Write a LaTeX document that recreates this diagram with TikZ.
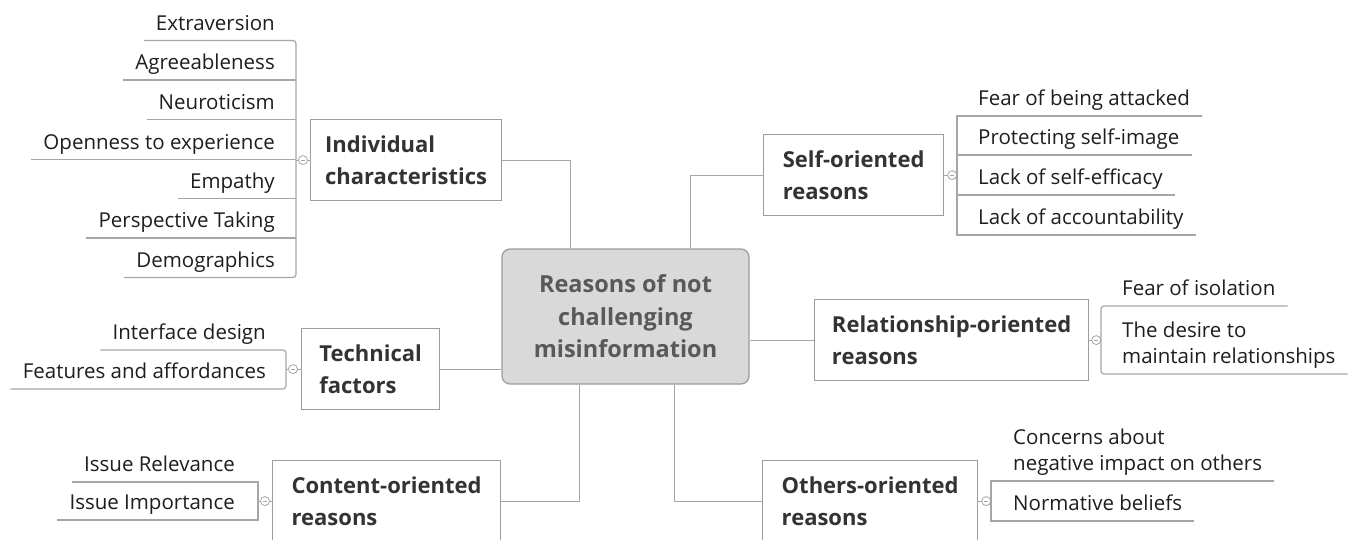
\documentclass[tikz,border=0pt]{standalone}
\usepackage{fontspec}
\setmainfont{Open Sans}
\usetikzlibrary{calc}
\definecolor{linegray}{HTML}{A6A6A6}
\definecolor{boxgray}{HTML}{9C9C9C}
\definecolor{centerfill}{HTML}{D9D9D9}
\definecolor{centertext}{HTML}{595959}
\definecolor{headtext}{HTML}{333333}
\definecolor{itemtext}{HTML}{1E1E1E}
\newcommand{\itemfont}{\fontsize{20.5}{26.5}\selectfont}
\newcommand{\headfont}{\fontsize{22}{32.5}\selectfont\bfseries}
\newcommand{\rootfont}{\fontsize{23.5}{32.5}\selectfont\bfseries}
\begin{document}
\begin{tikzpicture}[x=1pt,y=-1pt,
  conn/.style={draw=linegray, line width=1.2pt},
  bracket/.style={conn, rounded corners=3pt},
  sqbracket/.style={conn},
  topic/.style={draw=boxgray, line width=1.2pt, fill=white, anchor=north west,
    inner sep=0pt, align=left, font=\headfont, text=headtext, minimum height=81pt},
  root/.style={draw=boxgray, fill=centerfill, rounded corners=8pt, line width=1.2pt,
    minimum width=247pt, minimum height=135pt, align=center, font=\rootfont,
    text=centertext, inner sep=0pt},
  item/.style={font=\itemfont, text=itemtext, inner xsep=12pt, inner ysep=0pt,
    execute at end node={\rule[-10pt]{0pt}{10pt}}},
  litem/.style={item, anchor=south east, align=right},
  ritem/.style={item, anchor=south west, align=left},
  toggle/.style={circle, draw=linegray, fill=white, line width=0.8pt,
    minimum size=9pt, inner sep=0pt,
    path picture={\draw[linegray, line width=0.6pt]
      ([xshift=-2pt]path picture bounding box.center) --
      ([xshift=2pt]path picture bounding box.center);}}
]
\useasboundingbox (0,0) rectangle (1352,539);
\fill[white] (0,0) rectangle (1352,539);

% central topic
\node[root] (root) at (625.5,316.5) {Reasons of not\\challenging\\misinformation};

% main topics
\node[topic, minimum width=191pt] (indiv) at (310,119) {Individual\\characteristics};
\node[topic, minimum width=180pt] (self) at (763,134) {Self-oriented\\reasons};
\node[topic, minimum width=138pt] (tech) at (301,328) {Technical\\factors};
\node[topic, minimum width=274pt] (rel) at (814,299) {Relationship-oriented\\reasons};
\node[topic, minimum width=228pt] (content) at (272,460) {Content-oriented\\reasons};
\node[topic, minimum width=215pt] (others) at (762,460) {Others-oriented\\reasons};

% connectors to root
\draw[conn] (indiv.east) -| ($(root.north west)+(69,0)$);
\draw[conn] (self.west) -| ($(root.north west)+(189,0)$);
\draw[conn] (tech.east) -- (tech.east -| root.west);
\draw[conn] (rel.west) -- (rel.west -| root.east);
\draw[conn] (content.east) -| ($(root.south west)+(78,0)$);
\draw[conn] (others.west) -| ($(root.south west)+(173,0)$);

% ---- Individual characteristics
\coordinate (bi) at (296,159.5);
\node[litem] (i1) at (287,40.5) {Extraversion};
\node[litem] (i2) at (287,80) {Agreeableness};
\node[litem] (i3) at (287,119.5) {Neuroticism};
\node[litem] (i4) at (287,159.5) {Openness to experience};
\node[litem] (i5) at (287,198.5) {Empathy};
\node[litem] (i6) at (287,238) {Perspective Taking};
\node[litem] (i7) at (287,277.5) {Demographics};
\draw[bracket] (i1.south west) -- (i1.south west -| bi) -- (i7.south west -| bi) -- (i7.south west);
\foreach \n in {i2,i3,i4,i5,i6} \draw[conn] (\n.south west) -- (\n.south west -| bi);
\draw[conn] (indiv.west) -- (indiv.west -| bi);
\node[toggle] at ($(indiv.west)+(-7,0)$) {};

% ---- Technical factors
\coordinate (bt) at (286,368.5);
\node[litem] (t1) at (278,350) {Interface design};
\node[litem] (t2) at (278,389) {Features and affordances};
\draw[bracket] (t1.south west) -- (t1.south west -| bt) -- (t2.south west -| bt) -- (t2.south west);
\draw[conn] (tech.west) -- (tech.west -| bt);
\node[toggle] at ($(tech.west)+(-8,0)$) {};

% ---- Content-oriented reasons
\coordinate (bc) at (258,500.5);
\node[litem] (c1) at (247,482) {Issue Relevance};
\node[litem] (c2) at (247,520) {Issue Importance};
\draw[sqbracket] (c1.south west) -- (c1.south west -| bc) -- (c2.south west -| bc) -- (c2.south west);
\draw[conn] (content.west) -- (content.west -| bc);
\node[toggle] at ($(content.west)+(-7,0)$) {};

% ---- Self-oriented reasons
\coordinate (bs) at (957,174.5);
\node[ritem] (s1) at (966,116) {Fear of being attacked};
\node[ritem] (s2) at (966,155) {Protecting self-image};
\node[ritem] (s3) at (966,195) {Lack of self-efficacy};
\node[ritem] (s4) at (966,235) {Lack of accountability};
\draw[sqbracket] (s1.south east) -- (s1.south east -| bs) -- (s4.south east -| bs) -- (s4.south east);
\foreach \n in {s2,s3} \draw[conn] (\n.south east) -- (\n.south east -| bs);
\draw[conn] (self.east) -- (self.east -| bs);
\node[toggle] at ($(self.east)+(8,0)$) {};

% ---- Relationship-oriented reasons
\coordinate (br) at (1101,339.5);
\node[ritem] (r1) at (1110,306) {Fear of isolation};
\node[ritem] (r2) at (1110,374) {The desire to\\maintain relationships};
\draw[bracket] (r1.south east) -- (r1.south east -| br) -- (r2.south east -| br) -- (r2.south east);
\draw[conn] (rel.east) -- (rel.east -| br);
\node[toggle] at ($(rel.east)+(7,0)$) {};

% ---- Others-oriented reasons
\coordinate (bo) at (991,500.5);
\node[ritem] (o1) at (1001,481) {Concerns about\\negative impact on others};
\node[ritem] (o2) at (1001,521) {Normative beliefs};
\draw[sqbracket] (o1.south east) -- (o1.south east -| bo) -- (o2.south east -| bo) -- (o2.south east);
\draw[conn] (others.east) -- (others.east -| bo);
\node[toggle] at ($(others.east)+(8,0)$) {};
\end{tikzpicture}
\end{document}
